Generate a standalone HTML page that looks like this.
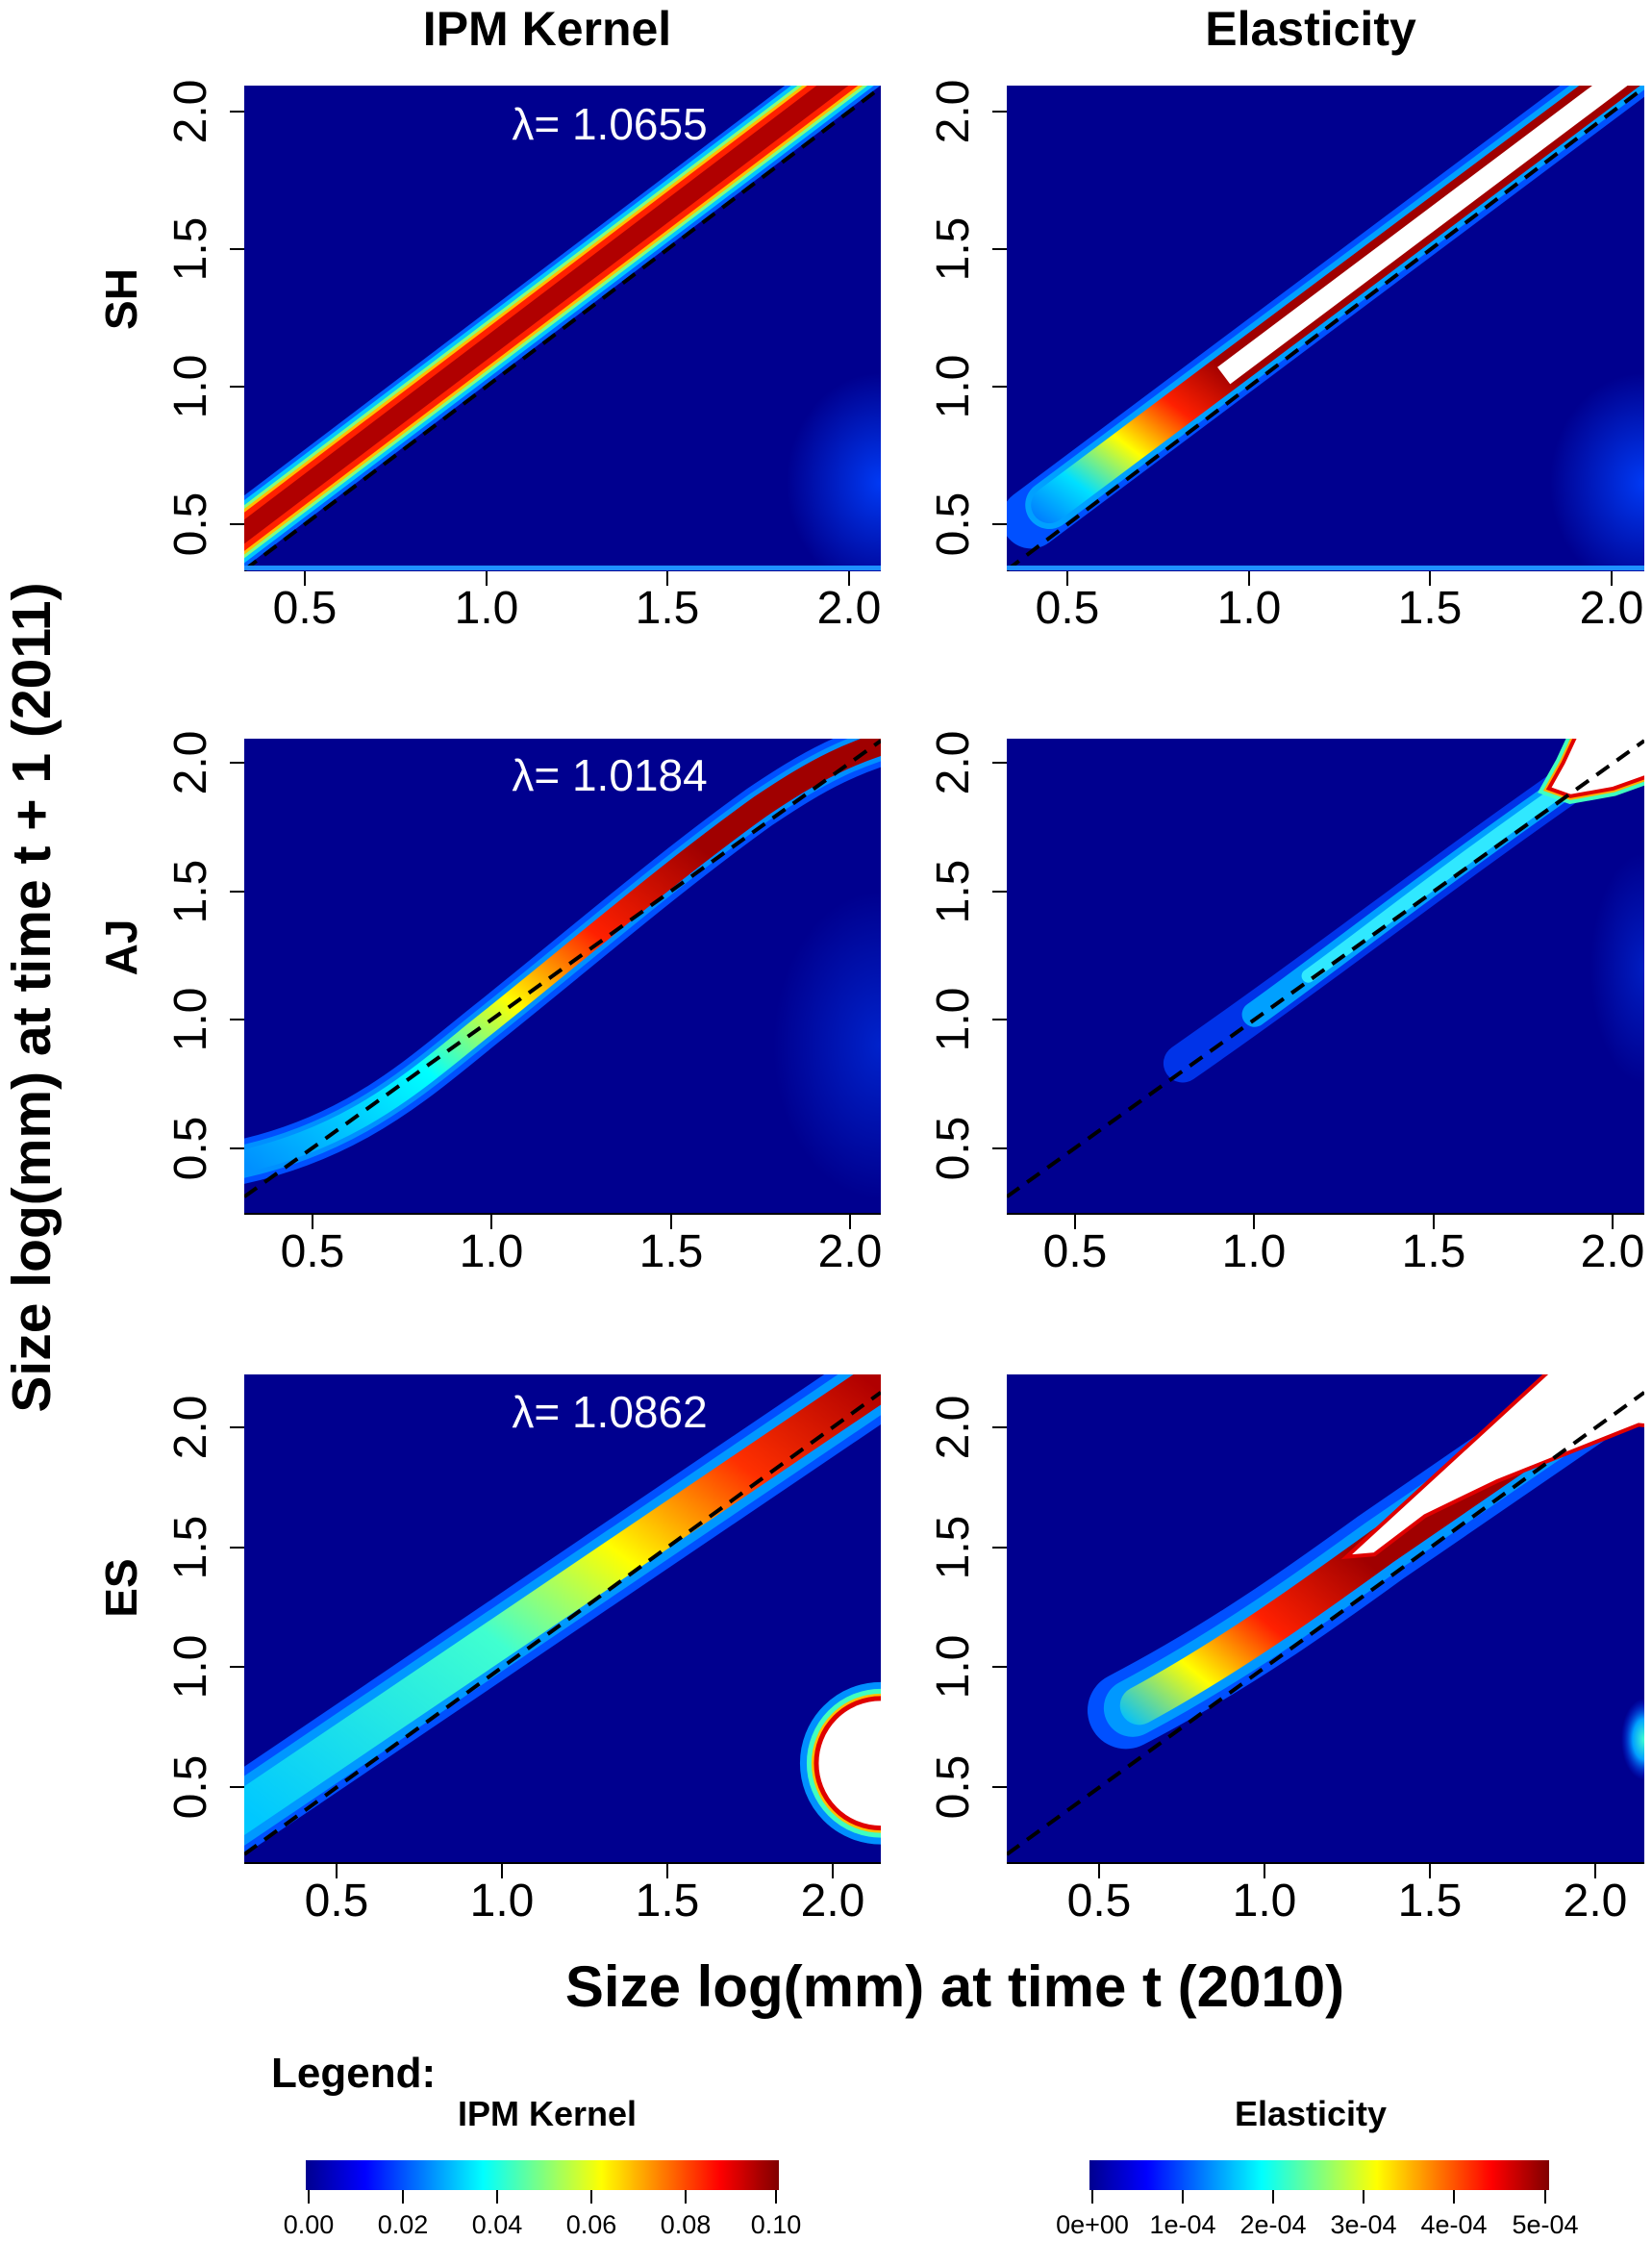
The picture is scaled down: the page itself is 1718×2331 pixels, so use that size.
<!DOCTYPE html>
<html><head><meta charset="utf-8"><style>
html,body{margin:0;padding:0;background:#fff}
svg{display:block}
svg svg{overflow:hidden}
text{font-family:"Liberation Sans",Arial,sans-serif}
</style></head><body>
<svg width="1718" height="2331" viewBox="0 0 1718 2331" xmlns="http://www.w3.org/2000/svg">
<defs>
<linearGradient id="jet" x1="0" x2="1" y1="0" y2="0">
<stop offset="0" stop-color="#00008f"/><stop offset="0.125" stop-color="#0000ff"/>
<stop offset="0.375" stop-color="#00ffff"/><stop offset="0.625" stop-color="#ffff00"/>
<stop offset="0.875" stop-color="#ff0000"/><stop offset="1" stop-color="#800000"/>
</linearGradient>
<radialGradient id="blob"><stop offset="0" stop-color="#0040ff" stop-opacity="0.9"/><stop offset="1" stop-color="#0040ff" stop-opacity="0"/></radialGradient>
<radialGradient id="blobc"><stop offset="0" stop-color="#40ffd0"/><stop offset="0.5" stop-color="#00a0ff"/><stop offset="1" stop-color="#0030ff" stop-opacity="0"/></radialGradient>
<linearGradient id="g1" gradientUnits="userSpaceOnUse" x1="0.4" y1="-0.5" x2="0.95" y2="-1.05">
<stop offset="0" stop-color="#0070ff"/><stop offset="0.25" stop-color="#00e0ff"/><stop offset="0.5" stop-color="#ffff00"/><stop offset="0.75" stop-color="#ff2000"/><stop offset="1" stop-color="#a00000"/>
</linearGradient>
<linearGradient id="g2" gradientUnits="userSpaceOnUse" x1="0.3" y1="-0.45" x2="1.6" y2="-1.65">
<stop offset="0" stop-color="#0090ff"/><stop offset="0.35" stop-color="#00ffff"/><stop offset="0.55" stop-color="#ffff00"/><stop offset="0.75" stop-color="#ff2000"/><stop offset="1" stop-color="#a00000"/>
</linearGradient>
<linearGradient id="g3" gradientUnits="userSpaceOnUse" x1="0.22" y1="-0.4" x2="2.1" y2="-2.2">
<stop offset="0" stop-color="#00c8ff"/><stop offset="0.4" stop-color="#40ffd0"/><stop offset="0.6" stop-color="#ffff00"/><stop offset="0.8" stop-color="#ff3000"/><stop offset="1" stop-color="#b00000"/>
</linearGradient>
<linearGradient id="g4" gradientUnits="userSpaceOnUse" x1="0.55" y1="-0.8" x2="1.3" y2="-1.45">
<stop offset="0" stop-color="#00c0ff"/><stop offset="0.3" stop-color="#ffff00"/><stop offset="0.6" stop-color="#ff2000"/><stop offset="1" stop-color="#a00000"/>
</linearGradient>
</defs>
<g fill="none">

<!-- ===== Row 1 ===== -->
<svg x="254" y="89" width="662" height="505" viewBox="0.333 -2.094 1.754 1.765" preserveAspectRatio="none">
<rect x="0" y="-3" width="3" height="3" fill="#00008f"/>
<ellipse cx="2.087" cy="-0.65" rx="0.26" ry="0.4" fill="url(#blob)"/>
<path d="M0.2,-0.34 L2.2,-2.34" stroke="#0060ff" stroke-width="60" vector-effect="non-scaling-stroke"/>
<path d="M0.2,-0.34 L2.2,-2.34" stroke="#00c8ff" stroke-width="52" vector-effect="non-scaling-stroke"/>
<path d="M0.2,-0.34 L2.2,-2.34" stroke="#80ff80" stroke-width="44" vector-effect="non-scaling-stroke"/>
<path d="M0.2,-0.34 L2.2,-2.34" stroke="#ffc000" stroke-width="38" vector-effect="non-scaling-stroke"/>
<path d="M0.2,-0.34 L2.2,-2.34" stroke="#ff2000" stroke-width="32" vector-effect="non-scaling-stroke"/>
<path d="M0.2,-0.34 L2.2,-2.34" stroke="#b00000" stroke-width="20" vector-effect="non-scaling-stroke"/>
<path d="M0.333,-0.333 L2.087,-2.087" stroke="#000" stroke-width="4" stroke-dasharray="16 10" vector-effect="non-scaling-stroke"/>
</svg>
<rect x="254" y="588" width="662" height="5" fill="#1e90ff"/>

<svg x="1047" y="89" width="663" height="505" viewBox="0.333 -2.094 1.754 1.765" preserveAspectRatio="none">
<rect x="0" y="-3" width="3" height="3" fill="#00008f"/>
<ellipse cx="2.087" cy="-0.65" rx="0.26" ry="0.4" fill="url(#blob)"/>
<path d="M0.4,-0.52 L2.2,-2.3" stroke="#0050ff" stroke-width="62" stroke-linecap="round" vector-effect="non-scaling-stroke"/>
<path d="M0.45,-0.57 L2.2,-2.3" stroke="#00a0ff" stroke-width="50" stroke-linecap="round" vector-effect="non-scaling-stroke"/>
<path d="M0.45,-0.57 L2.2,-2.3" stroke="url(#g1)" stroke-width="38" stroke-linecap="round" vector-effect="non-scaling-stroke"/>
<path d="M0.93,-1.04 L2.2,-2.3" stroke="#ffffff" stroke-width="22" vector-effect="non-scaling-stroke"/>
<path d="M0.333,-0.333 L2.087,-2.087" stroke="#000" stroke-width="4" stroke-dasharray="16 10" vector-effect="non-scaling-stroke"/>
</svg>
<rect x="1047" y="588" width="663" height="5" fill="#1e90ff"/>

<!-- ===== Row 2 ===== -->
<svg x="254" y="768" width="662" height="495" viewBox="0.31 -2.094 1.776 1.854" preserveAspectRatio="none">
<rect x="0" y="-3" width="3" height="3" fill="#00008f"/>
<ellipse cx="2.086" cy="-0.9" rx="0.3" ry="0.6" fill="url(#blob)" opacity="0.6"/>
<path d="M0.2,-0.42 C0.6,-0.5 0.8,-0.78 1.0,-1.0 C1.25,-1.28 1.5,-1.58 1.75,-1.83 C1.9,-1.97 2.0,-2.05 2.2,-2.12" stroke="#0050ff" stroke-width="46" vector-effect="non-scaling-stroke"/>
<path d="M0.2,-0.42 C0.6,-0.5 0.8,-0.78 1.0,-1.0 C1.25,-1.28 1.5,-1.58 1.75,-1.83 C1.9,-1.97 2.0,-2.05 2.2,-2.12" stroke="#0090ff" stroke-width="34" vector-effect="non-scaling-stroke"/>
<path d="M0.2,-0.42 C0.6,-0.5 0.8,-0.78 1.0,-1.0 C1.25,-1.28 1.5,-1.58 1.75,-1.83 C1.9,-1.97 2.0,-2.05 2.2,-2.12" stroke="url(#g2)" stroke-width="24" vector-effect="non-scaling-stroke"/>
<path d="M0.31,-0.31 L2.086,-2.086" stroke="#000" stroke-width="4" stroke-dasharray="16 10" vector-effect="non-scaling-stroke"/>
</svg>
<rect x="254" y="1261" width="662" height="2" fill="#000"/>

<svg x="1047" y="768" width="663" height="495" viewBox="0.31 -2.094 1.776 1.854" preserveAspectRatio="none">
<rect x="0" y="-3" width="3" height="3" fill="#00008f"/>
<ellipse cx="2.086" cy="-1.2" rx="0.15" ry="0.45" fill="url(#blob)" opacity="0.5"/>
<path d="M0.8,-0.83 C1.2,-1.22 1.5,-1.55 1.9,-1.94" stroke="#0040ff" stroke-width="40" stroke-linecap="round" vector-effect="non-scaling-stroke" opacity="0.8"/>
<path d="M1.0,-1.02 C1.2,-1.22 1.5,-1.55 1.9,-1.94" stroke="#00a0ff" stroke-width="26" stroke-linecap="round" vector-effect="non-scaling-stroke"/>
<path d="M1.15,-1.17 C1.3,-1.32 1.5,-1.55 1.9,-1.94" stroke="#30e8ff" stroke-width="14" stroke-linecap="round" vector-effect="non-scaling-stroke"/>
<polygon points="1.82,-1.9 1.86,-2.0 1.9,-2.12 2.12,-2.12 2.12,-1.96 2.0,-1.9 1.88,-1.87" stroke="#40ffc0" stroke-width="16" fill="#ffffff" vector-effect="non-scaling-stroke"/>
<polygon points="1.82,-1.9 1.86,-2.0 1.9,-2.12 2.12,-2.12 2.12,-1.96 2.0,-1.9 1.88,-1.87" stroke="#ffb000" stroke-width="8" fill="#ffffff" vector-effect="non-scaling-stroke"/>
<polygon points="1.82,-1.9 1.86,-2.0 1.9,-2.12 2.12,-2.12 2.12,-1.96 2.0,-1.9 1.88,-1.87" stroke="#e00000" stroke-width="4" fill="#ffffff" vector-effect="non-scaling-stroke"/>
<path d="M0.31,-0.31 L2.086,-2.086" stroke="#000" stroke-width="4" stroke-dasharray="16 10" vector-effect="non-scaling-stroke"/>
</svg>
<rect x="1047" y="1261" width="663" height="2" fill="#000"/>

<!-- ===== Row 3 ===== -->
<svg x="254" y="1429" width="662" height="509" viewBox="0.22 -2.22 1.925 2.04" preserveAspectRatio="none">
<rect x="0" y="-3" width="3" height="3" fill="#00008f"/>
<path d="M0.1,-0.29 L2.3,-2.34" stroke="#0050ff" stroke-width="76" vector-effect="non-scaling-stroke"/>
<path d="M0.1,-0.29 L2.3,-2.34" stroke="#0098ff" stroke-width="60" vector-effect="non-scaling-stroke"/>
<path d="M0.1,-0.29 L2.3,-2.34" stroke="url(#g3)" stroke-width="42" vector-effect="non-scaling-stroke"/>
<ellipse cx="2.145" cy="-0.6" rx="0.195" ry="0.27" stroke="#0090ff" stroke-width="34" fill="#fff" vector-effect="non-scaling-stroke"/>
<ellipse cx="2.145" cy="-0.6" rx="0.195" ry="0.27" stroke="#40ffc0" stroke-width="20" fill="#fff" vector-effect="non-scaling-stroke"/>
<ellipse cx="2.145" cy="-0.6" rx="0.195" ry="0.27" stroke="#ffc000" stroke-width="10" fill="#fff" vector-effect="non-scaling-stroke"/>
<ellipse cx="2.145" cy="-0.6" rx="0.195" ry="0.27" stroke="#e00000" stroke-width="5" fill="#fff" vector-effect="non-scaling-stroke"/>
<path d="M0.22,-0.22 L2.145,-2.145" stroke="#000" stroke-width="4" stroke-dasharray="16 10" vector-effect="non-scaling-stroke"/>
</svg>
<rect x="254" y="1936" width="662" height="2" fill="#000"/>

<svg x="1047" y="1429" width="663" height="509" viewBox="0.22 -2.22 1.925 2.04" preserveAspectRatio="none">
<rect x="0" y="-3" width="3" height="3" fill="#00008f"/>
<ellipse cx="2.145" cy="-0.7" rx="0.07" ry="0.17" fill="url(#blobc)"/>
<path d="M0.58,-0.82 C0.9,-1.05 1.15,-1.3 1.35,-1.5 L2.3,-2.4" stroke="#0050ff" stroke-width="80" stroke-linecap="round" vector-effect="non-scaling-stroke"/>
<path d="M0.6,-0.83 C0.9,-1.05 1.15,-1.3 1.35,-1.5 L2.3,-2.4" stroke="#0098ff" stroke-width="60" stroke-linecap="round" vector-effect="non-scaling-stroke"/>
<path d="M0.62,-0.84 C0.9,-1.05 1.15,-1.3 1.35,-1.5 L2.3,-2.4" stroke="url(#g4)" stroke-width="40" stroke-linecap="round" vector-effect="non-scaling-stroke"/>
<polygon points="1.246,-1.46 1.87,-2.25 2.2,-2.25 2.2,-2.0 2.128,-2.01 1.70,-1.775 1.483,-1.63 1.33,-1.47" stroke="#e00000" stroke-width="4" fill="#fff" vector-effect="non-scaling-stroke"/>
<path d="M0.22,-0.22 L2.145,-2.145" stroke="#000" stroke-width="4" stroke-dasharray="16 10" vector-effect="non-scaling-stroke"/>
</svg>
<rect x="1047" y="1936" width="663" height="2" fill="#000"/>

<!-- cover any overflow -->
<rect x="0" y="0" width="1718" height="89" fill="#fff"/>
<rect x="916" y="0" width="131" height="2331" fill="#fff"/>
<rect x="1710" y="0" width="8" height="2331" fill="#fff"/>
<rect x="0" y="594" width="1718" height="174" fill="#fff"/>
<rect x="0" y="1263" width="1718" height="166" fill="#fff"/>
<rect x="0" y="0" width="254" height="2331" fill="#fff"/>
<rect x="916" y="588" width="2" height="0" fill="#fff"/>

<!-- Titles -->
<text x="569" y="47" font-size="50" font-weight="bold" text-anchor="middle" fill="#000">IPM Kernel</text>
<text x="1363" y="47" font-size="50" font-weight="bold" text-anchor="middle" fill="#000">Elasticity</text>

<!-- lambda labels -->
<text x="634" y="145" font-size="46" fill="#fff" text-anchor="middle">λ= 1.0655</text>
<text x="634" y="822" font-size="46" fill="#fff" text-anchor="middle">λ= 1.0184</text>
<text x="634" y="1484" font-size="46" fill="#fff" text-anchor="middle">λ= 1.0862</text>

<!-- ticks -->
<g stroke="#000" stroke-width="2">
<path d="M317,594v15M506,594v15M694,594v15M883,594v15M1110,594v15M1299,594v15M1487,594v15M1676,594v15"/>
<path d="M239,116h15M239,259h15M239,402h15M239,545h15M1032,116h15M1032,259h15M1032,402h15M1032,545h15"/>
<path d="M325,1263v15M511,1263v15M698,1263v15M884,1263v15M1118,1263v15M1304,1263v15M1491,1263v15M1677,1263v15"/>
<path d="M239,793h15M239,927h15M239,1060h15M239,1194h15M1032,793h15M1032,927h15M1032,1060h15M1032,1194h15"/>
<path d="M350,1938v15M522,1938v15M694,1938v15M866,1938v15M1143,1938v15M1315,1938v15M1487,1938v15M1659,1938v15"/>
<path d="M239,1484h15M239,1609h15M239,1733h15M239,1858h15M1032,1484h15M1032,1609h15M1032,1733h15M1032,1858h15"/>
</g>

<g font-size="48" fill="#000" text-anchor="middle">
<text x="317" y="648">0.5</text><text x="506" y="648">1.0</text><text x="694" y="648">1.5</text><text x="883" y="648">2.0</text>
<text x="1110" y="648">0.5</text><text x="1299" y="648">1.0</text><text x="1487" y="648">1.5</text><text x="1676" y="648">2.0</text>
<text x="325" y="1317">0.5</text><text x="511" y="1317">1.0</text><text x="698" y="1317">1.5</text><text x="884" y="1317">2.0</text>
<text x="1118" y="1317">0.5</text><text x="1304" y="1317">1.0</text><text x="1491" y="1317">1.5</text><text x="1677" y="1317">2.0</text>
<text x="350" y="1992">0.5</text><text x="522" y="1992">1.0</text><text x="694" y="1992">1.5</text><text x="866" y="1992">2.0</text>
<text x="1143" y="1992">0.5</text><text x="1315" y="1992">1.0</text><text x="1487" y="1992">1.5</text><text x="1659" y="1992">2.0</text>
<g transform="translate(214,116) rotate(-90)"><text>2.0</text></g>
<g transform="translate(214,259) rotate(-90)"><text>1.5</text></g>
<g transform="translate(214,402) rotate(-90)"><text>1.0</text></g>
<g transform="translate(214,545) rotate(-90)"><text>0.5</text></g>
<g transform="translate(1007,116) rotate(-90)"><text>2.0</text></g>
<g transform="translate(1007,259) rotate(-90)"><text>1.5</text></g>
<g transform="translate(1007,402) rotate(-90)"><text>1.0</text></g>
<g transform="translate(1007,545) rotate(-90)"><text>0.5</text></g>
<g transform="translate(214,793) rotate(-90)"><text>2.0</text></g>
<g transform="translate(214,927) rotate(-90)"><text>1.5</text></g>
<g transform="translate(214,1060) rotate(-90)"><text>1.0</text></g>
<g transform="translate(214,1194) rotate(-90)"><text>0.5</text></g>
<g transform="translate(1007,793) rotate(-90)"><text>2.0</text></g>
<g transform="translate(1007,927) rotate(-90)"><text>1.5</text></g>
<g transform="translate(1007,1060) rotate(-90)"><text>1.0</text></g>
<g transform="translate(1007,1194) rotate(-90)"><text>0.5</text></g>
<g transform="translate(214,1484) rotate(-90)"><text>2.0</text></g>
<g transform="translate(214,1609) rotate(-90)"><text>1.5</text></g>
<g transform="translate(214,1733) rotate(-90)"><text>1.0</text></g>
<g transform="translate(214,1858) rotate(-90)"><text>0.5</text></g>
<g transform="translate(1007,1484) rotate(-90)"><text>2.0</text></g>
<g transform="translate(1007,1609) rotate(-90)"><text>1.5</text></g>
<g transform="translate(1007,1733) rotate(-90)"><text>1.0</text></g>
<g transform="translate(1007,1858) rotate(-90)"><text>0.5</text></g>
</g>

<g font-size="46" font-weight="bold" fill="#000" text-anchor="middle">
<g transform="translate(142,311) rotate(-90)"><text>SH</text></g>
<g transform="translate(142,985) rotate(-90)"><text>AJ</text></g>
<g transform="translate(142,1651) rotate(-90)"><text>ES</text></g>
</g>
<g transform="translate(52,1037) rotate(-90)"><text font-size="57" font-weight="bold" text-anchor="middle" fill="#000">Size log(mm) at time t + 1 (2011)</text></g>
<text x="993" y="2086" font-size="60" font-weight="bold" text-anchor="middle" fill="#000">Size log(mm) at time t (2010)</text>

<!-- legend -->
<text x="282" y="2170" font-size="44" font-weight="bold" fill="#000">Legend:</text>
<text x="569" y="2210" font-size="36" font-weight="bold" text-anchor="middle" fill="#000">IPM Kernel</text>
<text x="1363" y="2210" font-size="36" font-weight="bold" text-anchor="middle" fill="#000">Elasticity</text>
<rect x="318" y="2246" width="492" height="31" fill="url(#jet)"/>
<rect x="1133" y="2246" width="478" height="31" fill="url(#jet)"/>
<g stroke="#000" stroke-width="2">
<path d="M321,2277v14M419,2277v14M517,2277v14M615,2277v14M713,2277v14M807,2277v14"/>
<path d="M1136,2277v14M1230,2277v14M1324,2277v14M1418,2277v14M1512,2277v14M1607,2277v14"/>
</g>
<g font-size="27" fill="#000" text-anchor="middle">
<text x="321" y="2322">0.00</text><text x="419" y="2322">0.02</text><text x="517" y="2322">0.04</text><text x="615" y="2322">0.06</text><text x="713" y="2322">0.08</text><text x="807" y="2322">0.10</text>
<text x="1136" y="2322">0e+00</text><text x="1230" y="2322">1e-04</text><text x="1324" y="2322">2e-04</text><text x="1418" y="2322">3e-04</text><text x="1512" y="2322">4e-04</text><text x="1607" y="2322">5e-04</text>
</g>
</g>
</svg>
</body></html>
